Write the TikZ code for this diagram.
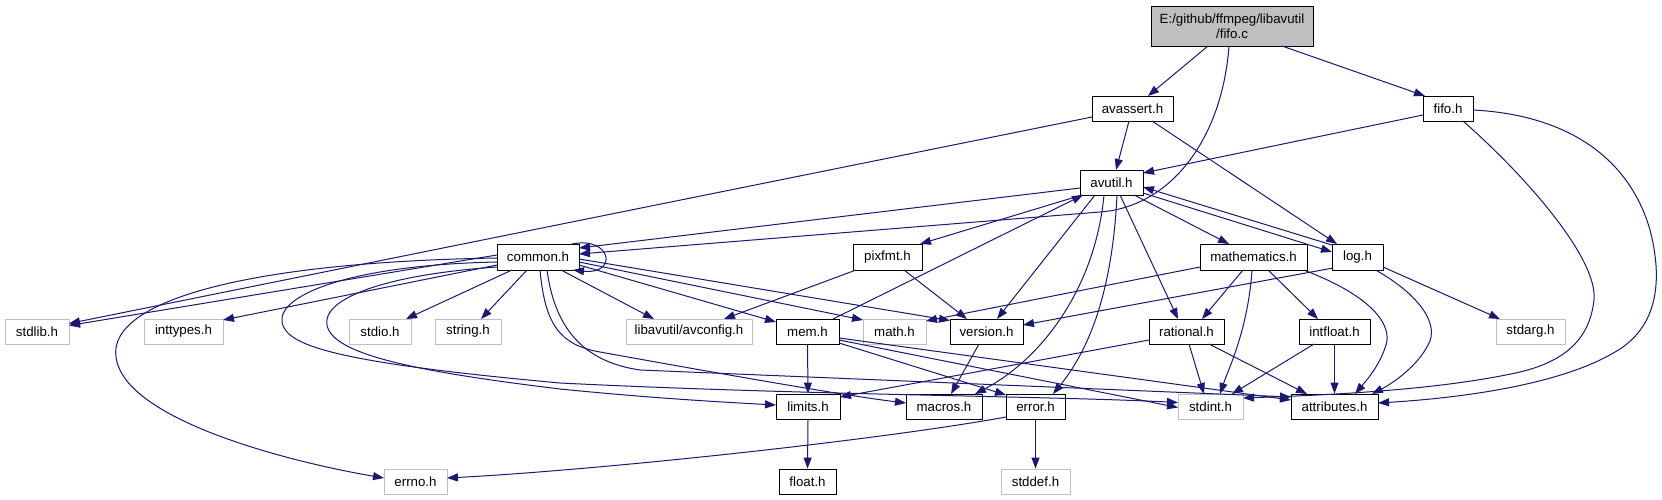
\documentclass[tikz,border=0pt]{standalone}
\usepackage{fontspec}
\setmainfont{Liberation Sans}
\usetikzlibrary{arrows.meta,calc}
\definecolor{edgeblue}{HTML}{191970}
\definecolor{undoc}{HTML}{BFBFBF}
\definecolor{rootfill}{HTML}{BFBFBF}
\tikzset{
  base/.style={rectangle,inner sep=0pt,minimum height=25pt,fill=white,line width=0.9pt,
     font=\fontsize{13.3}{15.5}\selectfont},
  doc/.style={base,draw=black},
  ext/.style={base,draw=undoc},
  rootnode/.style={base,draw=black,fill=rootfill,minimum height=40pt,align=center},
  edge/.style={draw=edgeblue,line width=1pt,-{Triangle[length=11pt,width=8pt]},fill=none},
}
\begin{document}
\begin{tikzpicture}[x=1pt,y=-1pt]
\useasboundingbox[fill=white] (0,0) rectangle (1662,500);
% nodes
\node[rootnode,minimum width=162pt] (fifoc) at (1232,26) {E:/github/ffmpeg/libavutil\\/fifo.c};
\node[doc,minimum width=81pt] (avassert) at (1132.5,108.5) {avassert.h};
\node[doc,minimum width=50pt] (fifoh) at (1448,108.5) {fifo.h};
\node[doc,minimum width=63pt] (avutil) at (1111.5,182.5) {avutil.h};
\node[doc,minimum width=82pt,minimum height=26pt] (common) at (538,257) {common.h};
\node[doc,minimum width=69pt,minimum height=26pt] (pixfmt) at (887.5,257) {pixfmt.h};
\node[doc,minimum width=107pt,minimum height=26pt] (mathematics) at (1253.5,257) {mathematics.h};
\node[doc,minimum width=51pt,minimum height=26pt] (log) at (1357.5,257) {log.h};
\node[ext,minimum width=64pt] (stdlib) at (37,331.5) {stdlib.h};
\node[ext,minimum width=79pt] (inttypes) at (183.5,331.5) {inttypes.h};
\node[ext,minimum width=62pt] (stdio) at (380,331.5) {stdio.h};
\node[ext,minimum width=66pt] (string) at (468,331.5) {string.h};
\node[ext,minimum width=126pt] (avconfig) at (689,331.5) {libavutil/avconfig.h};
\node[doc,minimum width=63pt] (mem) at (807.5,331.5) {mem.h};
\node[ext,minimum width=63pt] (math) at (894.5,331.5) {math.h};
\node[doc,minimum width=73pt] (version) at (986.5,331.5) {version.h};
\node[doc,minimum width=75pt] (rational) at (1186.5,331.5) {rational.h};
\node[doc,minimum width=71pt] (intfloat) at (1334.5,331.5) {intfloat.h};
\node[ext,minimum width=69pt] (stdarg) at (1530.5,331.5) {stdarg.h};
\node[doc,minimum width=64pt] (limits) at (808,406.5) {limits.h};
\node[doc,minimum width=76pt] (macros) at (944,406.5) {macros.h};
\node[doc,minimum width=59pt] (error) at (1035.5,406.5) {error.h};
\node[ext,minimum width=65pt] (stdint) at (1210.5,406.5) {stdint.h};
\node[doc,minimum width=87pt] (attributes) at (1334.5,406.5) {attributes.h};
\node[ext,minimum width=63pt] (errno) at (415.5,481.5) {errno.h};
\node[doc,minimum width=57pt] (float) at (807.5,481.5) {float.h};
\node[ext,minimum width=69pt] (stddef) at (1035.5,481.5) {stddef.h};
% edges from fifo.c
\draw[edge] ($(fifoc)+(-24,20)$) -- ($(avassert)+(15.5,-12.5)$);
\draw[edge] ($(fifoc)+(50,20)$) -- ($(fifoh)+(-23,-12.5)$);
\draw[edge] ($(fifoc)+(-3,20)$) .. controls (1222,140) and (1170,207) .. (1100,212) -- ($(common)+(41,-3)$);
% avassert
\draw[edge] ($(avassert)+(-3.5,12.5)$) -- ($(avutil)+(4.5,-12.5)$);
\draw[edge] ($(avassert)+(19.5,12.5)$) -- ($(log)+(-20.5,-13)$);
\draw[edge] ($(avassert)+(-40.5,8.5)$) -- ($(stdlib)+(32,-8)$);
% fifo.h
\draw[edge] ($(fifoh)+(-25,6.5)$) -- ($(avutil)+(31.5,-9.5)$);
\draw[edge] ($(fifoh)+(15,12.5)$) .. controls (1530,180) and (1598,260) .. (1594,300)
   .. controls (1590,335) and (1570,360) .. (1520,372) .. controls (1440,390) and (1330,395) .. ($(stdint)+(32.5,-8.5)$);
\draw[edge] ($(fifoh)+(25,1.5)$) .. controls (1570,115) and (1630,160) .. (1650,230)
   .. controls (1668,300) and (1645,335) .. (1615,352) .. controls (1560,385) and (1460,398) .. ($(attributes)+(43.5,-3.5)$);
% avutil
\draw[edge] ($(avutil)+(-31.5,5.5)$) -- ($(common)+(41,-9)$);
\draw[edge] ($(avutil)+(-29.5,12.5)$) -- ($(pixfmt)+(32.5,-13)$);
\draw[edge] ($(avutil)+(22.5,12.5)$) -- ($(mathematics)+(-24.5,-13)$);
\draw[edge] ($(avutil)+(31.5,10.5)$) -- ($(log)+(-25.5,-5)$);
\draw[edge] ($(log)+(-25.5,-12)$) -- ($(avutil)+(31.5,4.5)$);
\draw[edge] ($(avutil)+(-16.5,12.5)$) -- ($(version)+(10.5,-12.5)$);
\draw[edge] ($(avutil)+(-7.5,12.5)$) .. controls (1095,290) and (1040,360) .. ($(macros)+(31,-12.5)$);
\draw[edge] ($(avutil)+(5.5,12.5)$) .. controls (1112,300) and (1085,355) .. ($(error)+(17.5,-12.5)$);
\draw[edge] ($(avutil)+(8.5,12.5)$) -- ($(rational)+(-8.5,-12.5)$);
\draw[edge] ($(mem)+(25.5,-12.5)$) -- ($(avutil)+(-28.5,12.5)$);
% common
\draw[edge] ($(common)+(34,-13)$) .. controls (612,236) and (618,275) .. ($(common)+(35,13)$);
\draw[edge] ($(common)+(-41,-2)$) -- ($(stdlib)+(32,-6)$);
\draw[edge] ($(common)+(-41,8)$) -- ($(inttypes)+(39.5,-11.5)$);
\draw[edge] ($(common)+(-26,13)$) -- ($(stdio)+(26,-12.5)$);
\draw[edge] ($(common)+(-11,13)$) -- ($(string)+(13,-12.5)$);
\draw[edge] ($(common)+(23,13)$) -- ($(avconfig)+(-35,-12.5)$);
\draw[edge] ($(common)+(41,8)$) -- ($(mem)+(-31.5,-9.5)$);
\draw[edge] ($(common)+(41,5)$) -- ($(math)+(-31.5,-11.5)$);
\draw[edge] ($(common)+(41,2)$) -- ($(version)+(-36.5,-11)$);
\draw[edge] ($(common)+(-41,10)$) .. controls (380,275) and (322,300) .. (327,325)
   .. controls (332,355) and (420,372) .. (560,389) .. controls (650,398) and (720,402) .. ($(limits)+(-32,-1.5)$);
\draw[edge] ($(common)+(-41,5)$) .. controls (350,265) and (278,295) .. (282,322)
   .. controls (286,345) and (330,362) .. (560,383) .. controls (800,395) and (1050,396) .. ($(stdint)+(-32.5,-4)$);
\draw[edge] ($(common)+(-41,1)$) .. controls (250,262) and (108,300) .. (116,357)
   .. controls (124,420) and (290,462) .. ($(errno)+(-31.5,-3.5)$);
\draw[edge] ($(common)+(9,13)$) .. controls (555,330) and (585,362) .. (640,370) -- ($(attributes)+(-43.5,-9.5)$);
\draw[edge] ($(common)+(2,13)$) .. controls (545,325) and (560,345) .. (600,352)
   .. controls (700,370) and (840,395) .. ($(macros)+(-38,-3.5)$);
% pixfmt
\draw[edge] ($(pixfmt)+(-31.5,13)$) -- ($(avconfig)+(35,-12.5)$);
\draw[edge] ($(pixfmt)+(16.5,13)$) -- ($(version)+(-19.5,-12.5)$);
% mathematics
\draw[edge] ($(mathematics)+(-53.5,10)$) -- ($(math)+(31.5,-10.5)$);
\draw[edge] ($(mathematics)+(-10.5,13)$) -- ($(rational)+(15.5,-12.5)$);
\draw[edge] ($(mathematics)+(14.5,13)$) -- ($(intfloat)+(-16.5,-12.5)$);
\draw[edge] ($(mathematics)+(-1.5,13)$) .. controls (1248,330) and (1228,370) .. ($(stdint)+(9.5,-12.5)$);
\draw[edge] ($(mathematics)+(50,13)$) .. controls (1370,295) and (1395,325) .. (1385,348)
   .. controls (1378,368) and (1365,382) .. ($(attributes)+(20.5,-12.5)$);
% log
\draw[edge] ($(log)+(-24.5,11)$) -- ($(version)+(36.5,-6.5)$);
\draw[edge] ($(log)+(25.5,10)$) -- ($(stdarg)+(-30.5,-12.5)$);
\draw[edge] ($(log)+(18,13)$) .. controls (1420,295) and (1440,325) .. (1428,345)
   .. controls (1418,365) and (1395,382) .. ($(attributes)+(37.5,-12.5)$);
% mem
\draw[edge] (mem.south) -- (limits.north);
\draw[edge] ($(mem)+(31.5,11.5)$) -- ($(error)+(-29.5,-11.5)$);
\draw[edge] ($(mem)+(31.5,8.5)$) -- ($(stdint)+(-32.5,1)$);
\draw[edge] ($(mem)+(31.5,6.5)$) -- ($(attributes)+(-43.5,-6.5)$);
% version
\draw[edge] ($(version)+(-7.5,12.5)$) -- ($(macros)+(7,-12.5)$);
% rational
\draw[edge] ($(rational)+(-37.5,8.5)$) -- ($(limits)+(32,-9.5)$);
\draw[edge] ($(rational)+(2.5,12.5)$) -- ($(stdint)+(-6.5,-12.5)$);
\draw[edge] ($(rational)+(22.5,12.5)$) -- ($(attributes)+(-27.5,-12.5)$);
% intfloat
\draw[edge] ($(intfloat)+(-20.5,12.5)$) -- ($(stdint)+(21.5,-12.5)$);
\draw[edge] (intfloat.south) -- (attributes.north);
% limits, error
\draw[edge] (limits.south) -- (float.north);
\draw[edge] ($(error)+(-29.5,10.5)$) .. controls (880,440) and (600,470) .. ($(errno)+(31.5,-3.5)$);
\draw[edge] (error.south) -- (stddef.north);
\end{tikzpicture}
\end{document}
